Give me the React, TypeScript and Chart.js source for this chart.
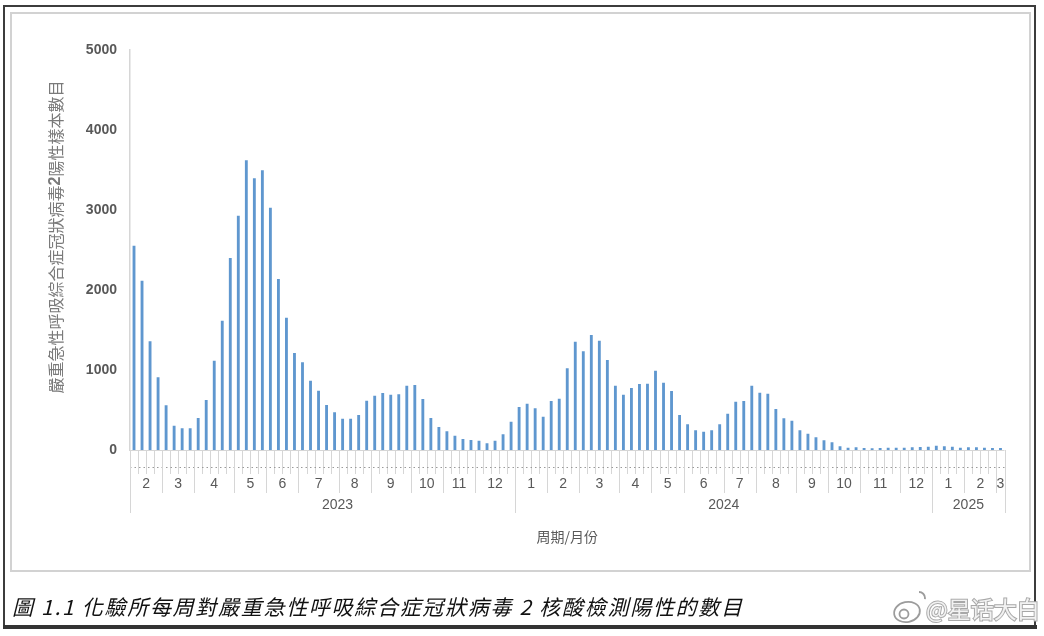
import React, { useEffect, useRef } from 'react';
import { Chart, registerables } from 'chart.js';

Chart.register(...registerables);

// ---- data (weekly positive counts, week ending Saturday, Feb 2023 – Mar 2025) ----
const weeklyPositives: number[] = [
  // 2023
  2550, 2112, 1354, 904, // Feb
  554, 300, 267, 267, // Mar
  396, 621, 1112, 1612, 2396, // Apr
  2925, 3617, 3392, 3492, // May
  3025, 2133, 1650, 1208, // Jun
  1092, 862, 737, 558, 467, // Jul
  387, 387, 433, 612, // Aug
  675, 708, 688, 692, 800, // Sep
  808, 633, 396, 283, // Oct
  229, 175, 133, 121, // Nov
  112, 79, 112, 192, 350, // Dec
  // 2024
  533, 575, 517, 412, // Jan
  608, 637, 1017, 1350, // Feb
  1229, 1433, 1362, 1121, 800, // Mar
  688, 771, 821, 825, // Apr
  985, 838, 733, 433, // May
  317, 242, 225, 242, 317, // Jun
  450, 600, 608, 800, // Jul
  712, 700, 508, 392, 362, // Aug
  242, 200, 154, 117, // Sep
  92, 42, 25, 29, // Oct
  21, 17, 21, 25, 25, // Nov
  25, 29, 33, 37, // Dec
  // 2025
  50, 42, 37, 25, // Jan
  29, 29, 25, 21, // Feb
  21, // Mar
];

const monthLabels: string[] = [
  '2', '3', '4', '5', '6', '7', '8', '9', '10', '11', '12',
  '1', '2', '3', '4', '5', '6', '7', '8', '9', '10', '11', '12',
  '1', '2', '3',
];
const weeksPerMonth: number[] = [
  4, 4, 5, 4, 4, 5, 4, 5, 4, 4, 5,
  4, 4, 5, 4, 4, 5, 4, 5, 4, 4, 5, 4,
  4, 4, 1,
];
const yearLabels: string[] = ['2023', '2024', '2025'];
const weeksPerYear: number[] = [48, 52, 9];

const yMax = 5000;
const yStep = 1000;

const yTitleParts: { text: string; bold: boolean }[] = [
  { text: '嚴重急性呼吸綜合症冠狀病毒', bold: false },
  { text: '2', bold: true },
  { text: '陽性樣本數目', bold: false },
];
const xTitle = '周期/月份';
const caption = '圖 1.1 化驗所每周對嚴重急性呼吸綜合症冠狀病毒 2 核酸檢測陽性的數目';
const watermark = '@星话大白';

const weekLabels = weeklyPositives.map((_, i) => `W${i + 1}`);

const AXIS_GRAY = '#d6d6d6';
const TEXT_GRAY = '#595959';
const LATIN = '"Liberation Sans", Arial, sans-serif';
const CJK = '"Noto Sans CJK TC", "Noto Sans", sans-serif';

const decorPlugin = {
  id: 'decor',
  beforeDraw(chart: any) {
    const ctx: CanvasRenderingContext2D = chart.ctx;
    ctx.save();
    ctx.fillStyle = '#ffffff';
    ctx.fillRect(0, 0, chart.width, chart.height);
    // inner light box
    ctx.strokeStyle = '#d2d2d2';
    ctx.lineWidth = 2;
    ctx.strokeRect(11, 13, 1019, 558);
    // outer dark frame
    ctx.strokeStyle = '#3c3c3c';
    ctx.lineWidth = 2;
    ctx.strokeRect(4, 6, 1031, 621);
    ctx.fillStyle = '#333333';
    ctx.fillRect(3, 625, 1034, 4);
    ctx.restore();
  },
  afterDraw(chart: any) {
    const ctx: CanvasRenderingContext2D = chart.ctx;
    const xs = chart.scales.x;
    const area = chart.chartArea;
    const n = weeklyPositives.length;
    const half = (xs.getPixelForValue(1) - xs.getPixelForValue(0)) / 2;
    const edge = (i: number) => (i < n ? xs.getPixelForValue(i) - half : xs.getPixelForValue(n - 1) + half);
    const b = area.bottom;
    ctx.save();
    ctx.lineWidth = 1;
    ctx.strokeStyle = AXIS_GRAY;
    // baseline
    ctx.beginPath();
    ctx.moveTo(edge(0), b + 0.5);
    ctx.lineTo(edge(n), b + 0.5);
    ctx.stroke();
    // week ticks
    for (let i = 0; i <= n; i++) {
      const x = Math.round(edge(i)) + 0.5;
      ctx.beginPath();
      ctx.moveTo(x, b);
      ctx.lineTo(x, b + 24);
      ctx.stroke();
    }
    // dotted row
    ctx.save();
    ctx.strokeStyle = '#9a9a9a';
    ctx.setLineDash([1.5, 3]);
    ctx.beginPath();
    ctx.moveTo(edge(0), b + 17.5);
    ctx.lineTo(edge(n), b + 17.5);
    ctx.stroke();
    ctx.restore();
    // month separators and labels
    ctx.fillStyle = TEXT_GRAY;
    ctx.font = `14px ${LATIN}`;
    ctx.textAlign = 'center';
    ctx.textBaseline = 'middle';
    let k = 0;
    for (let m = 0; m < monthLabels.length; m++) {
      const s = k;
      const e = k + weeksPerMonth[m];
      const x = Math.round(edge(s)) + 0.5;
      ctx.beginPath();
      ctx.moveTo(x, b);
      ctx.lineTo(x, b + 43);
      ctx.stroke();
      ctx.fillText(monthLabels[m], (edge(s) + edge(e)) / 2, b + 34);
      k = e;
    }
    // year separators and labels (first year label sits a little right of centre in the original)
    const yearShift = (y: number) => (y === 0 ? 15 : 0);
    k = 0;
    for (let y = 0; y < yearLabels.length; y++) {
      const s = k;
      const e = k + weeksPerYear[y];
      const x = Math.round(edge(s)) + 0.5;
      ctx.beginPath();
      ctx.moveTo(x, b);
      ctx.lineTo(x, b + 63);
      ctx.stroke();
      ctx.fillText(yearLabels[y], (edge(s) + edge(e)) / 2 + yearShift(y), b + 55);
      k = e;
    }
    {
      const x = Math.round(edge(n)) + 0.5;
      ctx.beginPath();
      ctx.moveTo(x, b);
      ctx.lineTo(x, b + 63);
      ctx.stroke();
    }
    // x title
    ctx.font = `14px ${CJK}`;
    ctx.fillStyle = TEXT_GRAY;
    ctx.fillText(xTitle, (area.left + area.right) / 2, 537);

    // y title (rotated)
    ctx.save();
    ctx.translate(56, 237);
    ctx.rotate(-Math.PI / 2);
    ctx.fillStyle = '#7a7a7a';
    ctx.textAlign = 'left';
    ctx.textBaseline = 'middle';
    const fontOf = (p: { bold: boolean }) => (p.bold ? `bold 16px ${LATIN}` : `16px ${CJK}`);
    let total = 0;
    for (const p of yTitleParts) {
      ctx.font = fontOf(p);
      total += ctx.measureText(p.text).width;
    }
    let tx = -total / 2;
    for (const p of yTitleParts) {
      ctx.font = fontOf(p);
      ctx.fillText(p.text, tx, 0);
      tx += ctx.measureText(p.text).width;
    }
    ctx.restore();

    // caption (italic), spread to width
    ctx.save();
    ctx.font = `italic 21px ${CJK}`;
    ctx.fillStyle = '#111111';
    ctx.textAlign = 'left';
    ctx.textBaseline = 'middle';
    const chars = Array.from(caption);
    let w = 0;
    for (const c of chars) w += ctx.measureText(c).width;
    const target = 730;
    const gap = (target - w) / (chars.length - 1);
    let cx = 12;
    for (const c of chars) {
      ctx.fillText(c, cx, 607);
      cx += ctx.measureText(c).width + gap;
    }
    ctx.restore();

    // watermark
    ctx.save();
    ctx.strokeStyle = '#9c9c9c';
    ctx.lineWidth = 1.8;
    ctx.beginPath();
    ctx.ellipse(907, 612, 13, 10, -0.2, 0, Math.PI * 2);
    ctx.stroke();
    ctx.beginPath();
    ctx.arc(904, 614, 4.5, 0, Math.PI * 2);
    ctx.stroke();
    ctx.beginPath();
    ctx.arc(919, 598, 6, -Math.PI / 2, 0.2);
    ctx.stroke();
    ctx.font = `23px "Noto Sans CJK SC", sans-serif`;
    ctx.textAlign = 'left';
    ctx.textBaseline = 'middle';
    ctx.lineWidth = 2;
    ctx.strokeStyle = '#a8a8a8';
    ctx.strokeText(watermark, 926, 609);
    ctx.fillStyle = '#f2f2f2';
    ctx.fillText(watermark, 926, 609);
    ctx.restore();

    ctx.restore();
  },
};

export default function App() {
  const ref = useRef<HTMLCanvasElement | null>(null);
  useEffect(() => {
    if (!ref.current) return;
    const chart = new Chart(ref.current, {
      type: 'bar',
      data: {
        labels: weekLabels,
        datasets: [
          {
            data: weeklyPositives,
            backgroundColor: '#5f97cf',
            borderWidth: 0,
            barThickness: 2.2,
          },
        ],
      },
      options: {
        responsive: false,
        animation: false,
        devicePixelRatio: 1,
        layout: { padding: { left: 0, right: 39.5, top: 50, bottom: 186 } },
        plugins: { legend: { display: false }, tooltip: { enabled: false }, title: { display: false } },
        scales: {
          x: { display: false, offset: true },
          y: {
            min: 0,
            max: yMax,
            afterFit: (scale: any) => {
              scale.width = 130;
            },
            ticks: {
              stepSize: yStep,
              padding: 13,
              color: TEXT_GRAY,
              font: { family: LATIN, size: 14, weight: 'bold' },
              callback: (v: any) => String(v),
            },
            grid: { display: false, drawTicks: false },
            border: { display: true, color: AXIS_GRAY, width: 1.5 },
          },
        },
      },
      plugins: [decorPlugin],
    });
    return () => chart.destroy();
  }, []);
  return (
    <div style={{ position: 'fixed', left: 0, top: 0, width: 1044, height: 636, background: '#fff' }}>
      <canvas ref={ref} width={1044} height={636} style={{ display: 'block' }} />
    </div>
  );
}
